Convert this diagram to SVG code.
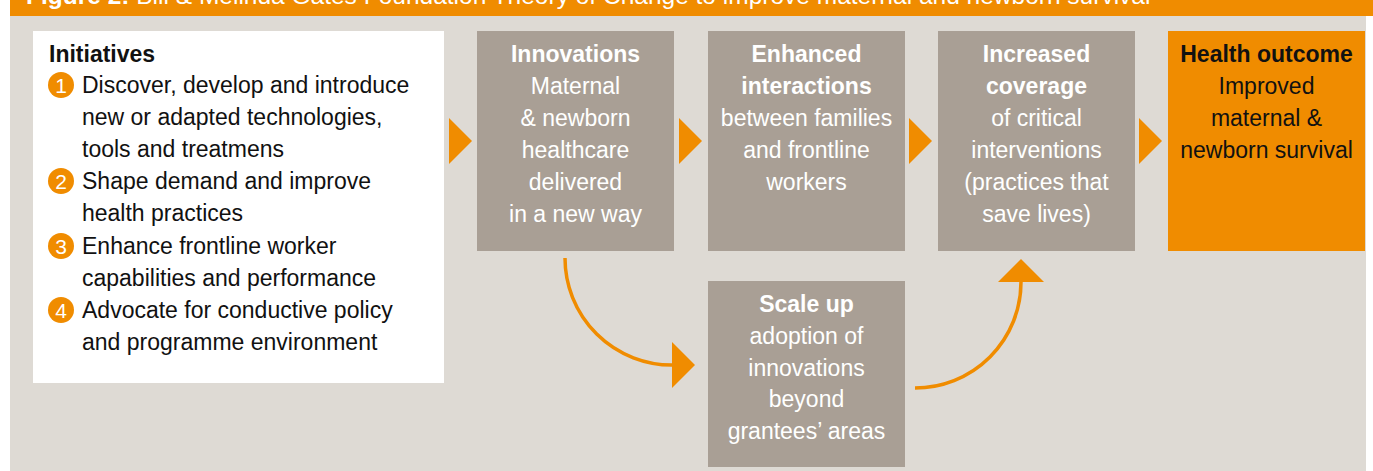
<svg xmlns="http://www.w3.org/2000/svg" width="1373" height="471" viewBox="0 0 1373 471">
<style>
  .t{font-family:"Liberation Sans",Arial,sans-serif;font-size:23px}
  .w{fill:#ffffff}
  .k{fill:#111111}
  .b{font-weight:bold}
  .c{text-anchor:middle}
  .box{fill:#A99F95}
  .num{fill:#F08C00}
  .numt{font-family:"Liberation Sans",Arial,sans-serif;font-size:21px;fill:#ffffff;text-anchor:middle}
  .tri{fill:#F08C00}
  .curve{fill:none;stroke:#F08C00;stroke-width:3.5}
</style>
<rect x="0" y="0" width="1373" height="471" fill="#ffffff"/>
<rect x="10" y="16" width="1356" height="455" fill="#DEDAD4"/>
<g id="title">
  <rect x="10" y="0" width="1363" height="16" fill="#F08C00"/>
  <text class="w" x="26" y="4" font-family="Liberation Sans, Arial, sans-serif" font-size="24.5"><tspan font-weight="bold">Figure 2:</tspan> Bill &amp; Melinda Gates Foundation Theory of Change to improve maternal and newborn survival</text>
</g>
<g id="initiatives">
  <rect x="33" y="31" width="411" height="352" fill="#ffffff"/>
  <text class="t k b" x="49" y="62">Initiatives</text>
  <circle class="num" cx="61" cy="85" r="13"/>
  <text class="numt" x="61" y="92.5">1</text>
  <text class="t k" x="82" y="93">Discover, develop and introduce</text>
  <text class="t k" x="82" y="125">new or adapted technologies,</text>
  <text class="t k" x="82" y="157">tools and treatmens</text>
  <circle class="num" cx="61" cy="181" r="13"/>
  <text class="numt" x="61" y="188.5">2</text>
  <text class="t k" x="82" y="189">Shape demand and improve</text>
  <text class="t k" x="82" y="221">health practices</text>
  <circle class="num" cx="61" cy="246" r="13"/>
  <text class="numt" x="61" y="253.5">3</text>
  <text class="t k" x="82" y="254">Enhance frontline worker</text>
  <text class="t k" x="82" y="286">capabilities and performance</text>
  <circle class="num" cx="61" cy="310" r="13"/>
  <text class="numt" x="61" y="317.5">4</text>
  <text class="t k" x="82" y="318">Advocate for conductive policy</text>
  <text class="t k" x="82" y="350">and programme environment</text>
</g>
<g id="innovations">
  <rect class="box" x="477" y="31" width="197" height="220"/>
  <text class="t w b c" x="575.5" y="62">Innovations</text>
  <text class="t w c" x="575.5" y="94">Maternal</text>
  <text class="t w c" x="575.5" y="126">&amp; newborn</text>
  <text class="t w c" x="575.5" y="158">healthcare</text>
  <text class="t w c" x="575.5" y="190">delivered</text>
  <text class="t w c" x="575.5" y="222">in a new way</text>
</g>
<g id="interactions">
  <rect class="box" x="708" y="31" width="197" height="220"/>
  <text class="t w b c" x="806.5" y="62">Enhanced</text>
  <text class="t w b c" x="806.5" y="94">interactions</text>
  <text class="t w c" x="806.5" y="126">between families</text>
  <text class="t w c" x="806.5" y="158">and frontline</text>
  <text class="t w c" x="806.5" y="190">workers</text>
</g>
<g id="coverage">
  <rect class="box" x="938" y="31" width="197" height="220"/>
  <text class="t w b c" x="1036.5" y="62">Increased</text>
  <text class="t w b c" x="1036.5" y="94">coverage</text>
  <text class="t w c" x="1036.5" y="126">of critical</text>
  <text class="t w c" x="1036.5" y="158">interventions</text>
  <text class="t w c" x="1036.5" y="190">(practices that</text>
  <text class="t w c" x="1036.5" y="222">save lives)</text>
</g>
<g id="outcome">
  <rect x="1168" y="31" width="197" height="220" fill="#F08C00"/>
  <text class="t k b c" x="1266.5" y="62">Health outcome</text>
  <text class="t k c" x="1266.5" y="94">Improved</text>
  <text class="t k c" x="1266.5" y="126">maternal &amp;</text>
  <text class="t k c" x="1266.5" y="158">newborn survival</text>
</g>
<g id="scaleup">
  <rect class="box" x="708" y="281" width="197" height="186"/>
  <text class="t w b c" x="806.5" y="312">Scale up</text>
  <text class="t w c" x="806.5" y="344">adoption of</text>
  <text class="t w c" x="806.5" y="376">innovations</text>
  <text class="t w c" x="806.5" y="407">beyond</text>
  <text class="t w c" x="806.5" y="439">grantees’ areas</text>
</g>
<g id="connectors">
  <polygon class="tri" points="449,118 449,164 472,141"/>
  <polygon class="tri" points="679,118 679,164 702,141"/>
  <polygon class="tri" points="909,118 909,164 932,141"/>
  <polygon class="tri" points="1139,118 1139,164 1162,141"/>
  <path class="curve" d="M565,258 A107,107 0 0 0 673,365"/>
  <polygon class="tri" points="672,342 672,388 695,365"/>
  <path class="curve" d="M915,388 A106,106 0 0 0 1021,282"/>
  <polygon class="tri" points="998,282 1044,282 1021,259"/>
</g>
</svg>
